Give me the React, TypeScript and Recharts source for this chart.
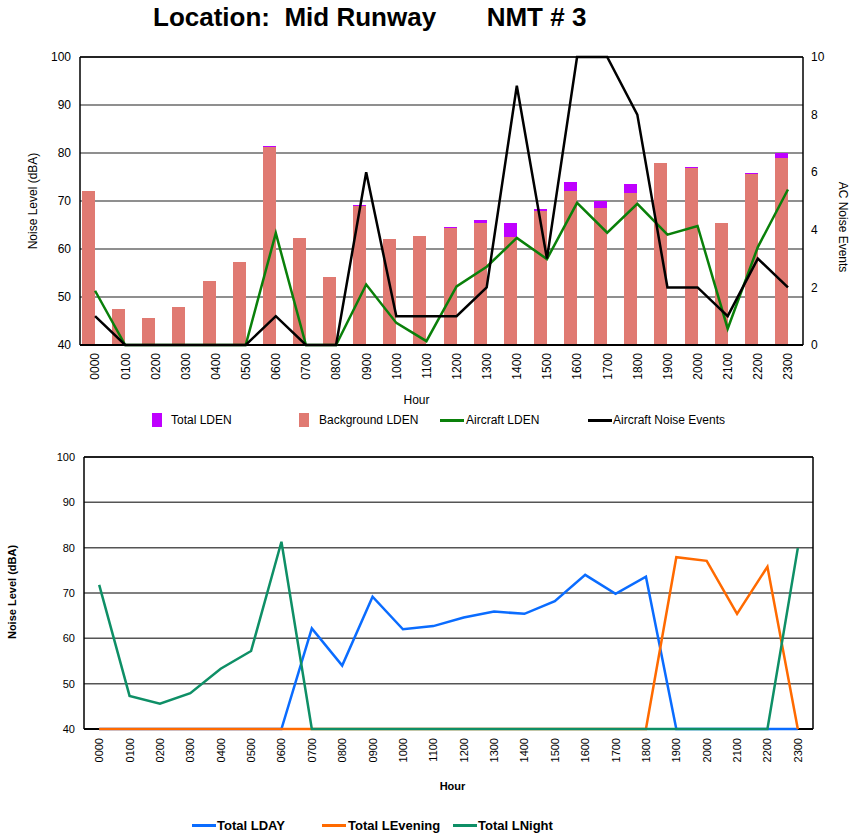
import React from 'react';
import { ComposedChart, Bar, Line, XAxis, YAxis, CartesianGrid, ReferenceLine } from 'recharts';

const hours = ['0000','0100','0200','0300','0400','0500','0600','0700','0800','0900','1000','1100','1200','1300','1400','1500','1600','1700','1800','1900','2000','2100','2200','2300'];

const totalLden = [72.0, 47.5, 45.6, 47.9, 53.3, 57.3, 81.4, 62.3, 54.2, 69.2, 62.1, 62.7, 64.5, 66.0, 65.4, 68.3, 74.0, 69.9, 73.5, 77.9, 77.1, 65.4, 75.8, 79.9];
const backgroundLden = [72.0, 47.5, 45.6, 47.9, 53.3, 57.3, 81.2, 62.3, 54.2, 69.0, 62.0, 62.7, 64.4, 65.4, 62.5, 67.9, 72.1, 68.6, 71.7, 77.9, 76.9, 65.4, 75.6, 79.0];
const aircraftLden = [51.3, 40, 40, 40, 40, 40, 63.3, 40, 40, 52.6, 44.6, 40.8, 52.2, 56.3, 62.3, 57.9, 69.6, 63.4, 69.4, 63.0, 64.8, 43.4, 60.4, 72.4];
const noiseEvents = [1, 0, 0, 0, 0, 0, 1, 0, 0, 6, 1, 1, 1, 2, 9, 3, 10, 10, 8, 2, 2, 1, 3, 2];

const totalLday = [40, 40, 40, 40, 40, 40, 40, 62.2, 54.0, 69.2, 62.0, 62.7, 64.6, 65.9, 65.4, 68.2, 74.0, 69.8, 73.6, 40, 40, 40, 40, 40];
const totalLevening = [40, 40, 40, 40, 40, 40, 40, 40, 40, 40, 40, 40, 40, 40, 40, 40, 40, 40, 40, 77.9, 77.1, 65.4, 75.8, 40];
const totalLnight = [71.8, 47.3, 45.6, 47.9, 53.3, 57.2, 81.3, 40, 40, 40, 40, 40, 40, 40, 40, 40, 40, 40, 40, 40, 40, 40, 40, 79.9];

const levelTicks = [40, 50, 60, 70, 80, 90, 100];
const eventTicks = [0, 2, 4, 6, 8, 10];

const topData = hours.map((h, i) => ({
  hour: h,
  total: totalLden[i],
  bg: backgroundLden[i],
  pad: null,
  ac: aircraftLden[i],
  ev: noiseEvents[i],
}));

const bottomData = hours.map((h, i) => ({
  hour: h,
  day: totalLday[i],
  eve: totalLevening[i],
  night: totalLnight[i],
}));

const FONT = '"Liberation Sans", Arial, sans-serif';

const makeVTick = (fontSize: number) => (props: any) => {
  const { x, y, payload } = props;
  const cx = x + fontSize * 0.36;
  return (
    <text x={cx} y={y} transform={`rotate(-90, ${cx}, ${y})`} textAnchor="end" fontSize={fontSize} fill="#000" fontFamily={FONT}>
      {payload.value}
    </text>
  );
};

export default function App() {
  return (
    <div style={{ position: 'absolute', left: 0, top: 0, width: 863, height: 834, background: '#fff', fontFamily: FONT, overflow: 'hidden' }}>
      <div style={{ position: 'absolute', left: 153, top: 4, fontSize: 26, lineHeight: '26px', fontWeight: 'bold', whiteSpace: 'pre', color: '#000' }}>
        {'Location:  Mid Runway       NMT # 3'}
      </div>

      <div style={{ position: 'absolute', left: 0, top: 0 }}>
        <ComposedChart width={863} height={440} data={topData} margin={{ top: 57, right: 0, left: 0, bottom: 40 }} barGap={0} barSize={13}>
          <CartesianGrid yAxisId="left" vertical={false} stroke="#6a6a6a" strokeWidth={1.5} />
          <XAxis xAxisId="bgAxis" dataKey="hour" scale="band" hide />
          <XAxis
            dataKey="hour"
            scale="band"
            height={55}
            tickLine={false}
            tickSize={6}
            tickMargin={2}
            interval={0}
            axisLine={{ stroke: '#000', strokeWidth: 2 }}
            tick={makeVTick(12)}
            label={{
              content: (p: any) => (
                <text x={p.viewBox.x + p.viewBox.width / 2 - 25} y={p.viewBox.y + 59} textAnchor="middle" fontSize={12} fill="#000" fontFamily={FONT}>Hour</text>
              ),
            }}
          />
          <YAxis
            yAxisId="left"
            domain={[40, 100]}
            ticks={levelTicks}
            width={80}
            tickLine={false}
            tickSize={6}
            tickMargin={3}
            axisLine={{ stroke: '#000', strokeWidth: 1.5 }}
            tick={{ fontSize: 12, fill: '#000', fontFamily: FONT }}
            label={{
              content: (p: any) => {
                const x = p.viewBox.x + 37;
                const y = 201;
                return <text x={x} y={y} transform={`rotate(-90, ${x}, ${y})`} textAnchor="middle" fontSize={12} fill="#000" fontFamily={FONT}>Noise Level (dBA)</text>;
              },
            }}
          />
          <YAxis
            yAxisId="right"
            orientation="right"
            domain={[0, 10]}
            ticks={eventTicks}
            width={60}
            tickLine={false}
            tickSize={6}
            tickMargin={2}
            axisLine={{ stroke: '#000', strokeWidth: 1.5 }}
            tick={{ fontSize: 12, fill: '#000', fontFamily: FONT, textAnchor: 'start' }}
            label={{
              content: (p: any) => {
                const x = p.viewBox.x + 36;
                const y = 227;
                return <text x={x} y={y} transform={`rotate(90, ${x}, ${y})`} textAnchor="middle" fontSize={12} fill="#000" fontFamily={FONT}>AC Noise Events</text>;
              },
            }}
          />
          <ReferenceLine yAxisId="left" y={100} stroke="#000" strokeWidth={1.5} />
          <Bar yAxisId="left" dataKey="total" fill="#BF00FF" shapeRendering="crispEdges" isAnimationActive={false} />
          <Bar yAxisId="left" dataKey="pad" fill="none" isAnimationActive={false} />
          <Bar yAxisId="left" xAxisId="bgAxis" dataKey="bg" fill="#E07A72" shapeRendering="crispEdges" isAnimationActive={false} />
          <Bar yAxisId="left" xAxisId="bgAxis" dataKey="pad" fill="none" isAnimationActive={false} />
          <Line yAxisId="left" dataKey="ac" stroke="#0A800A" strokeWidth={2.5} dot={false} zIndex={600} isAnimationActive={false} />
          <Line yAxisId="right" dataKey="ev" stroke="#000" strokeWidth={2.5} dot={false} zIndex={600} isAnimationActive={false} />
        </ComposedChart>
      </div>

      {/* top legend */}
      <div style={{ position: 'absolute', left: 152, top: 413, width: 10, height: 14, background: '#BF00FF' }} />
      <div style={{ position: 'absolute', left: 171, top: 413, fontSize: 12, lineHeight: '14px', whiteSpace: 'pre' }}>Total LDEN</div>
      <div style={{ position: 'absolute', left: 299, top: 413, width: 10, height: 14, background: '#E07A72' }} />
      <div style={{ position: 'absolute', left: 319, top: 413, fontSize: 12, lineHeight: '14px', whiteSpace: 'pre' }}>Background LDEN</div>
      <div style={{ position: 'absolute', left: 440, top: 419, width: 24, height: 3, background: '#0A800A' }} />
      <div style={{ position: 'absolute', left: 466, top: 413, fontSize: 12, lineHeight: '14px', whiteSpace: 'pre' }}>Aircraft LDEN</div>
      <div style={{ position: 'absolute', left: 588, top: 419, width: 24, height: 3, background: '#000' }} />
      <div style={{ position: 'absolute', left: 613, top: 413, fontSize: 12, lineHeight: '14px', whiteSpace: 'pre' }}>Aircraft Noise Events</div>

      <div style={{ position: 'absolute', left: 0, top: 440 }}>
        <ComposedChart width={863} height={394} data={bottomData} margin={{ top: 17, right: 0, left: 0, bottom: 55 }}>
          <CartesianGrid vertical={false} stroke="#555" strokeWidth={1.5} />
          <XAxis
            dataKey="hour"
            scale="band"
            height={50}
            tickLine={false}
            tickSize={6}
            tickMargin={3}
            interval={0}
            axisLine={{ stroke: '#000', strokeWidth: 2 }}
            tick={makeVTick(11)}
            label={{
              content: (p: any) => (
                <text x={p.viewBox.x + p.viewBox.width / 2 + 4} y={p.viewBox.y + 61} textAnchor="middle" fontSize={11} fontWeight="bold" fill="#000" fontFamily={FONT}>Hour</text>
              ),
            }}
          />
          <YAxis
            domain={[40, 100]}
            ticks={levelTicks}
            width={84}
            tickLine={false}
            tickSize={6}
            tickMargin={3}
            axisLine={{ stroke: '#000', strokeWidth: 1.5 }}
            tick={{ fontSize: 11, fill: '#000', fontFamily: FONT }}
            label={{
              content: (p: any) => {
                const x = p.viewBox.x + 16;
                const y = 152;
                return <text x={x} y={y} transform={`rotate(-90, ${x}, ${y})`} textAnchor="middle" fontSize={11} fontWeight="bold" fill="#000" fontFamily={FONT}>Noise Level (dBA)</text>;
              },
            }}
          />
          <YAxis yAxisId="frame" orientation="right" width={50} tick={false} tickLine={false} axisLine={{ stroke: '#000', strokeWidth: 1.5 }} />
          <ReferenceLine y={100} stroke="#000" strokeWidth={1.5} />
          <Line dataKey="day" stroke="#0A6CFF" strokeWidth={2.5} dot={false} zIndex={600} isAnimationActive={false} />
          <Line dataKey="eve" stroke="#FF6A00" strokeWidth={2.5} dot={false} zIndex={601} isAnimationActive={false} />
          <Line dataKey="night" stroke="#0E8F66" strokeWidth={2.5} dot={false} zIndex={602} isAnimationActive={false} />
        </ComposedChart>
      </div>

      {/* bottom legend */}
      <div style={{ position: 'absolute', left: 192, top: 824, width: 24, height: 3, background: '#0A6CFF' }} />
      <div style={{ position: 'absolute', left: 217, top: 818, fontSize: 13, fontWeight: 'bold', lineHeight: '15px', whiteSpace: 'pre' }}>Total LDAY</div>
      <div style={{ position: 'absolute', left: 322, top: 824, width: 24, height: 3, background: '#FF6A00' }} />
      <div style={{ position: 'absolute', left: 348, top: 818, fontSize: 13, fontWeight: 'bold', lineHeight: '15px', whiteSpace: 'pre' }}>Total LEvening</div>
      <div style={{ position: 'absolute', left: 453, top: 824, width: 24, height: 3, background: '#0E8F66' }} />
      <div style={{ position: 'absolute', left: 478, top: 818, fontSize: 13, fontWeight: 'bold', lineHeight: '15px', whiteSpace: 'pre' }}>Total LNight</div>
    </div>
  );
}
